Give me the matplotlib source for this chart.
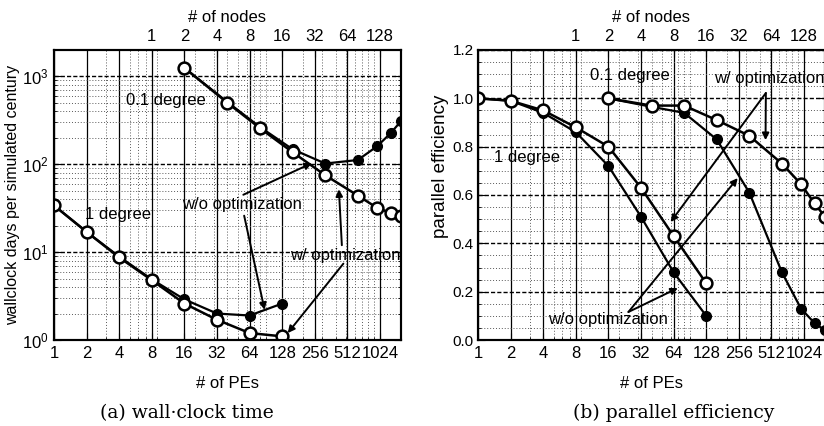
import numpy as np
import matplotlib
matplotlib.use('Agg')
import matplotlib.pyplot as plt
from matplotlib.ticker import LogLocator, MultipleLocator, NullFormatter

plt.rcParams['font.family'] = ['Liberation Sans', 'DejaVu Sans']
plt.rcParams['mathtext.default'] = 'regular'

# number of PEs for each run
pes_1deg = [1, 2, 4, 8, 16, 32, 64, 128]
pes_01deg = [16, 40, 80, 160, 320, 640, 960, 1280, 1600]

# wall-clock days per simulated century
time_1deg_opt = [34, 17, 8.7, 4.8, 2.6, 1.7, 1.2, 1.1]
time_1deg_noopt = [34, 17, 8.9, 4.9, 2.9, 2.0, 1.9, 2.6]
time_01deg_opt = [1250, 500, 257, 137, 75, 44, 32, 28, 26]
time_01deg_noopt = [1250, 510, 265, 148, 102, 112, 160, 225, 310]

# parallel efficiency
eff_1deg_opt = [1.0, 0.99, 0.95, 0.88, 0.80, 0.63, 0.43, 0.235]
eff_1deg_noopt = [1.0, 0.99, 0.94, 0.86, 0.72, 0.51, 0.28, 0.10]
eff_01deg_opt = [1.0, 0.97, 0.97, 0.91, 0.845, 0.73, 0.645, 0.565, 0.51]
eff_01deg_noopt = [1.0, 0.965, 0.94, 0.83, 0.61, 0.28, 0.13, 0.07, 0.04]

pe_ticks = [1, 2, 4, 8, 16, 32, 64, 128, 256, 512, 1024]
node_ticks = [8, 16, 32, 64, 128, 256, 512, 1024]
node_labels = ['1', '2', '4', '8', '16', '32', '64', '128']

fig = plt.figure(figsize=(8.24, 4.26), dpi=100)
ax1 = fig.add_axes([54/824, 86/426, 347/824, 290/426])
ax2 = fig.add_axes([478/824, 86/426, 347/824, 290/426])


def style_axes(ax):
    ax.set_xscale('log')
    ax.set_xlim(1, 1600)
    ax.set_xticks(pe_ticks)
    ax.set_xticklabels([str(p) for p in pe_ticks])
    ax.xaxis.set_minor_locator(LogLocator(base=10, subs=np.arange(2, 10)))
    ax.xaxis.set_minor_formatter(NullFormatter())
    ax.grid(which='minor', color='0.35', ls=(0, (1, 2)), lw=0.7)
    ax.grid(which='major', axis='x', color='k', ls='-', lw=0.9)
    ax.grid(which='major', axis='y', color='k', ls=(0, (3, 1.5)), lw=1.0)
    ax.tick_params(which='both', direction='in', right=True, labelsize=12, pad=4)
    ax.tick_params(which='major', length=5)
    ax.tick_params(which='minor', length=2.5)
    for s in ax.spines.values():
        s.set_linewidth(1.5)
    ax.set_xlabel('# of PEs', fontsize=12)
    ax.xaxis.set_label_coords(0.5, -0.125)
    top = ax.twiny()
    top.set_xscale('log')
    top.set_xlim(ax.get_xlim())
    top.set_xticks(node_ticks)
    top.set_xticklabels(node_labels)
    top.minorticks_off()
    top.tick_params(direction='in', labelsize=12, pad=4, length=5)
    top.set_xlabel('# of nodes', fontsize=12)
    top.xaxis.set_label_coords(0.5, 1.095)
    for s in top.spines.values():
        s.set_linewidth(1.5)


def draw(ax, x, y_noopt, y_opt):
    ax.plot(x, y_noopt, '-', color='k', lw=1.6, marker='o', ms=7,
            mfc='k', mec='k', zorder=3)
    ax.plot(x, y_opt, '-', color='k', lw=1.8, marker='o', ms=8.5,
            mfc='white', mec='k', mew=1.8, zorder=4)


arrow = dict(arrowstyle='-|>', color='k', lw=1.4, mutation_scale=10, shrinkA=0, shrinkB=0)

# (a) wall-clock time
style_axes(ax1)
ax1.set_yscale('log')
ax1.set_ylim(1, 2000)
ax1.set_yticks([1, 10, 100, 1000])
ax1.set_yticklabels(['$10^{0}$', '$10^{1}$', '$10^{2}$', '$10^{3}$'])
ax1.yaxis.set_minor_formatter(NullFormatter())
draw(ax1, pes_1deg, time_1deg_noopt, time_1deg_opt)
draw(ax1, pes_01deg, time_01deg_noopt, time_01deg_opt)
ax1.set_ylabel('wallclock days per simulated century', fontsize=11.5)
ax1.yaxis.set_label_coords(-0.098, 0.5)

ax1.text(10.9, 527, '0.1 degree', fontsize=12, ha='center', va='center')
ax1.text(3.9, 27, '1 degree', fontsize=12, ha='center', va='center')
ax1.text(54, 34.6, 'w/o optimization', fontsize=12, ha='center', va='center')
ax1.annotate('', xy=(240, 103), xytext=(56, 45), arrowprops=arrow)
ax1.annotate('', xy=(88, 2.2), xytext=(57, 26), arrowprops=arrow)
ax1.text(485, 9.1, 'w/ optimization', fontsize=12, ha='center', va='center')
ax1.annotate('', xy=(144, 1.2), xytext=(470, 7.4), arrowprops=arrow)
ax1.annotate('', xy=(427, 52), xytext=(455, 12), arrowprops=arrow)

# (b) parallel efficiency
style_axes(ax2)
ax2.set_ylim(0, 1.2)
ax2.set_yticks(np.arange(0, 1.21, 0.2))
ax2.set_yticklabels(['%.1f' % v for v in np.arange(0, 1.21, 0.2)])
ax2.yaxis.set_minor_locator(MultipleLocator(0.05))
ax2.tick_params(axis='y', pad=3, labelsize=11)
draw(ax2, pes_1deg, eff_1deg_noopt, eff_1deg_opt)
draw(ax2, pes_01deg, eff_01deg_noopt, eff_01deg_opt)
ax2.set_ylabel('parallel efficiency', fontsize=13.5)
ax2.yaxis.set_label_coords(-0.085, 0.6)

ax2.text(25, 1.096, '0.1 degree', fontsize=12, ha='center', va='center')
ax2.text(2.84, 0.757, '1 degree', fontsize=12, ha='center', va='center')
ax2.text(485, 1.084, 'w/ optimization', fontsize=12, ha='center', va='center')
ax2.annotate('', xy=(60, 0.488), xytext=(455, 1.022), arrowprops=arrow)
ax2.annotate('', xy=(452, 0.827), xytext=(455, 1.022), arrowprops=arrow)
ax2.text(15.7, 0.083, 'w/o optimization', fontsize=12, ha='center', va='center')
ax2.annotate('', xy=(250, 0.67), xytext=(24.5, 0.116), arrowprops=arrow)
ax2.annotate('', xy=(70, 0.215), xytext=(24.5, 0.116), arrowprops=arrow)

fig.text(187/824, 1 - 413/426, '(a) wall\u00b7clock time', fontsize=13.5,
         family='DejaVu Serif', ha='center', va='center')
fig.text(674/824, 1 - 413/426, '(b) parallel efficiency', fontsize=13.5,
         family='DejaVu Serif', ha='center', va='center')

fig.savefig('out.png', dpi=100)
